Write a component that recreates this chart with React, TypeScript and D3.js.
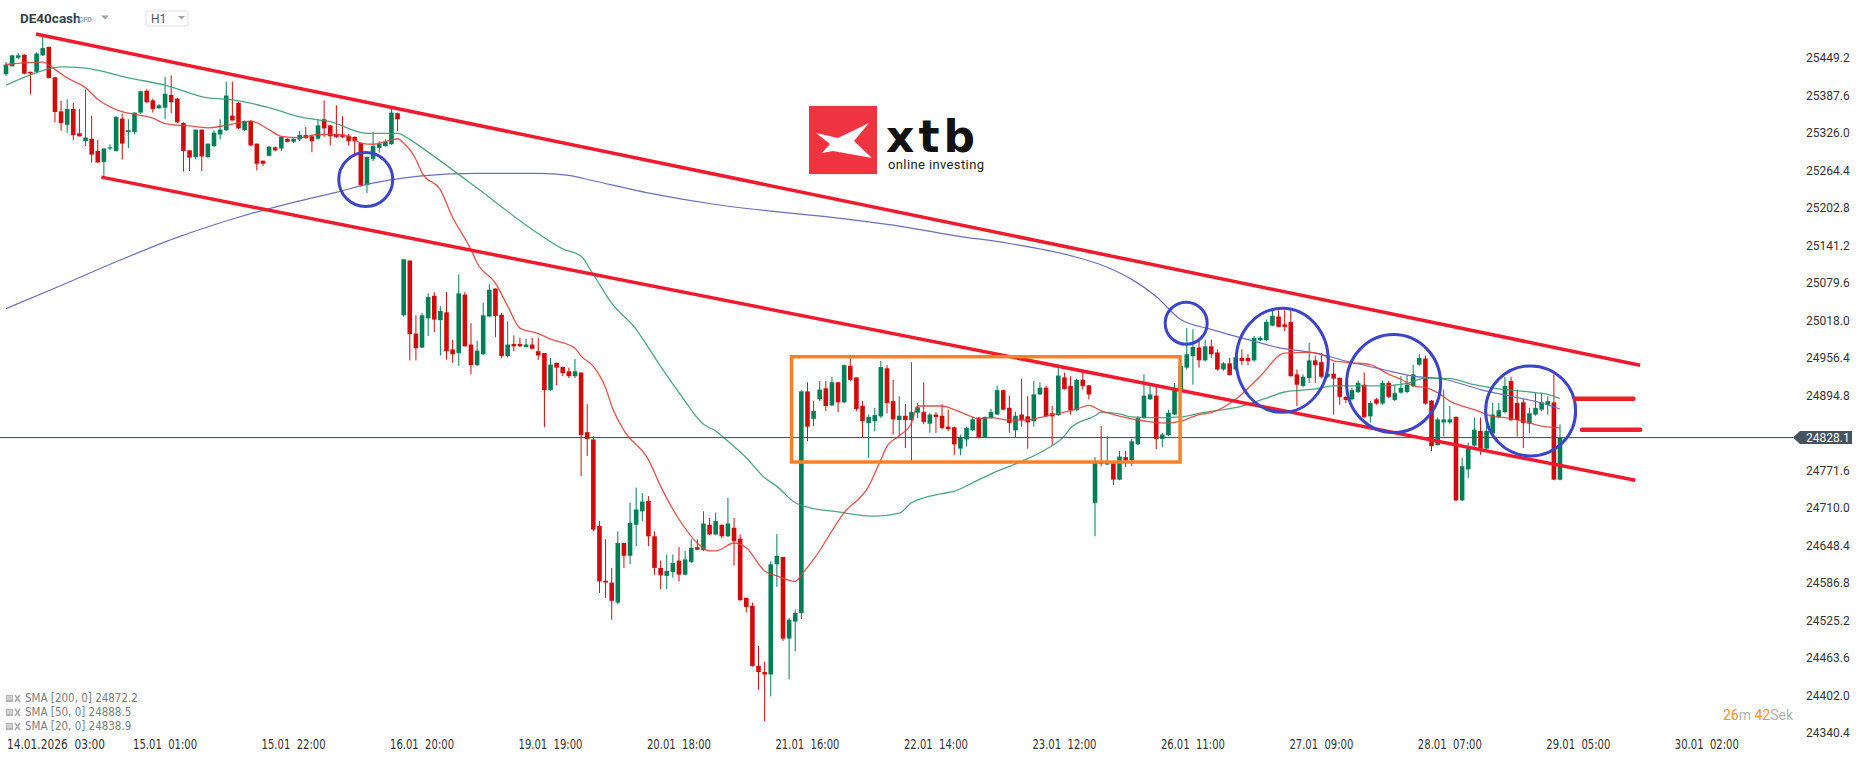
import React from 'react'
import * as d3 from 'd3'

// DE40cash H1 candles (bar index 0 = first visible bar)
const opens = [
  25425, 25438, 25452, 25457, 25429, 25429, 25456, 25470, 25420, 25364,
  25342, 25368, 25328, 25315, 25319, 25299, 25281, 25303, 25299, 25352,
  25330, 25330, 25362, 25398, 25382, 25369, 25370, 25391, 25385, 25345,
  25300, 25289, 25334, 25289, 25307, 25326, 25333, 25357, 25378, 25333,
  25348, 25311, 25283, 25291, 25305, 25303, 25319, 25314, 25318, 25325,
  25323, 25319, 25351, 25341, 25327, 25326, 25324, 25322, 25312, 25243,
  25286, 25304, 25307, 25310, 25361, 25029, 25119, 24999, 24976, 25024,
  25061, 25021, 25034, 24973, 24967, 25063, 24981, 24947, 24965, 25027,
  25073, 25030, 24962, 24982, 24982, 24977, 24981, 24970, 24967, 24906,
  24951, 24944, 24937, 24929, 24935, 24837, 24825, 24683, 24593, 24590,
  24557, 24655, 24634, 24685, 24707, 24724, 24666, 24614, 24601, 24607,
  24626, 24603, 24624, 24648, 24643, 24685, 24669, 24685, 24666, 24680,
  24662, 24565, 24552, 24453, 24443, 24439, 24620, 24632, 24498, 24526,
  24540, 24904, 24859, 24891, 24909, 24881, 24919, 24886, 24946, 24927,
  24880, 24852, 24855, 24863, 24942, 24888, 24857, 24864, 24857, 24869,
  24870, 24851, 24866, 24864, 24846, 24845, 24810, 24825, 24840, 24861,
  24829, 24860, 24866, 24906, 24877, 24840, 24866, 24863, 24855, 24899,
  24910, 24868, 24865, 24927, 24913, 24873, 24923, 24914, 24721, 24787,
  24784, 24786, 24759, 24796, 24791, 24817, 24860, 24891, 24897, 24826,
  24832, 24866, 24907, 24943, 24962, 24976, 24955, 24978, 24968, 24940,
  24950, 24940, 24959, 24959, 24955, 24988, 24988, 25012, 25027, 25014,
  25018, 24932, 24913, 24926, 24955, 24952, 24928, 24933, 24926, 24895,
  24891, 24903, 24915, 24863, 24891, 24884, 24918, 24890, 24902, 24903,
  24913, 24948, 24958, 24889, 24816, 24853, 24853, 24862, 24725, 24776,
  24815, 24839, 24810, 24835, 24862, 24870, 24921, 24885, 24886, 24851,
  24866, 24874, 24882, 24886, 24759,
]
const highs = [
  25445, 25457, 25460, 25458, 25429, 25461, 25489, 25470, 25420, 25381,
  25384, 25378, 25368, 25400, 25357, 25317, 25303, 25310, 25356, 25360,
  25351, 25362, 25398, 25400, 25385, 25376, 25421, 25423, 25386, 25346,
  25300, 25334, 25334, 25311, 25333, 25351, 25413, 25413, 25380, 25349,
  25350, 25311, 25283, 25307, 25306, 25323, 25320, 25320, 25332, 25338,
  25324, 25351, 25382, 25342, 25374, 25356, 25327, 25323, 25313, 25290,
  25330, 25315, 25318, 25370, 25362, 25121, 25119, 25029, 25033, 25065,
  25067, 25044, 25067, 24989, 25096, 25067, 25016, 24987, 25050, 25080,
  25073, 25033, 25019, 24996, 24992, 24990, 24992, 24992, 24967, 24959,
  24951, 24945, 24943, 24957, 24935, 24883, 24830, 24691, 24661, 24614,
  24674, 24655, 24721, 24746, 24737, 24732, 24674, 24626, 24636, 24636,
  24648, 24642, 24661, 24661, 24707, 24696, 24705, 24685, 24729, 24696,
  24669, 24565, 24557, 24486, 24460, 24625, 24670, 24632, 24532, 24546,
  24906, 24919, 24888, 24921, 24921, 24928, 24919, 24948, 24958, 24927,
  24888, 24866, 24877, 24954, 24947, 24923, 24896, 24883, 24952, 24885,
  24919, 24869, 24870, 24883, 24874, 24846, 24833, 24846, 24862, 24862,
  24863, 24875, 24913, 24907, 24897, 24870, 24925, 24896, 24921, 24919,
  24913, 24880, 24948, 24935, 24929, 24925, 24937, 24914, 24796, 24847,
  24830, 24787, 24806, 24806, 24826, 24863, 24932, 24913, 24913, 24836,
  24874, 24918, 24948, 25008, 25006, 24989, 24989, 24989, 24973, 24952,
  24959, 24967, 24973, 24965, 24995, 24995, 25022, 25037, 25037, 25037,
  25037, 24940, 24932, 24984, 24962, 24967, 24940, 24951, 24927, 24896,
  24910, 24922, 24935, 24888, 24893, 24922, 24921, 24915, 24929, 24930,
  24948, 24965, 24963, 24890, 24861, 24907, 24880, 24863, 24795, 24820,
  24861, 24861, 24861, 24885, 24885, 24928, 24928, 24907, 24891, 24877,
  24902, 24902, 24896, 24932, 24850,
]
const lows = [
  25422, 25438, 25450, 25425, 25392, 25427, 25455, 25418, 25346, 25332,
  25329, 25317, 25323, 25307, 25280, 25280, 25258, 25300, 25298, 25285,
  25304, 25326, 25360, 25378, 25362, 25368, 25351, 25361, 25345, 25265,
  25266, 25285, 25266, 25287, 25305, 25318, 25332, 25349, 25335, 25332,
  25307, 25267, 25274, 25290, 25299, 25299, 25313, 25312, 25315, 25319,
  25297, 25318, 25322, 25308, 25320, 25320, 25308, 25290, 25240, 25230,
  25282, 25296, 25306, 25309, 25332, 25027, 24955, 24955, 24975, 24995,
  25001, 24963, 24956, 24951, 24946, 24978, 24932, 24946, 24964, 25026,
  24993, 24959, 24960, 24970, 24977, 24976, 24973, 24956, 24845, 24905,
  24914, 24929, 24926, 24926, 24765, 24798, 24674, 24573, 24565, 24529,
  24554, 24614, 24620, 24650, 24691, 24650, 24603, 24579, 24579, 24598,
  24592, 24602, 24622, 24643, 24642, 24668, 24668, 24663, 24665, 24618,
  24560, 24541, 24452, 24414, 24362, 24403, 24583, 24494, 24431, 24477,
  24530, 24822, 24847, 24888, 24872, 24880, 24870, 24885, 24921, 24872,
  24829, 24795, 24839, 24860, 24868, 24833, 24830, 24811, 24790, 24860,
  24850, 24836, 24836, 24842, 24839, 24800, 24799, 24814, 24839, 24827,
  24828, 24859, 24865, 24873, 24836, 24828, 24846, 24810, 24846, 24898,
  24862, 24815, 24864, 24907, 24866, 24872, 24907, 24891, 24666, 24781,
  24783, 24750, 24758, 24780, 24781, 24816, 24859, 24890, 24809, 24813,
  24831, 24865, 24906, 24940, 24915, 24943, 24953, 24959, 24938, 24938,
  24930, 24938, 24947, 24947, 24953, 24987, 24987, 25011, 25009, 25003,
  24928, 24880, 24911, 24918, 24918, 24926, 24926, 24866, 24882, 24885,
  24889, 24901, 24860, 24853, 24882, 24882, 24893, 24888, 24900, 24901,
  24911, 24946, 24882, 24806, 24815, 24830, 24850, 24724, 24724, 24762,
  24813, 24800, 24808, 24833, 24860, 24868, 24855, 24830, 24811, 24836,
  24864, 24872, 24866, 24758, 24758,
]
const closes = [
  25441, 25456, 25456, 25426, 25426, 25459, 25468, 25419, 25363, 25345,
  25368, 25325, 25323, 25321, 25293, 25280, 25303, 25305, 25355, 25311,
  25333, 25362, 25397, 25379, 25368, 25374, 25393, 25379, 25346, 25299,
  25288, 25334, 25290, 25311, 25329, 25334, 25390, 25349, 25336, 25348,
  25308, 25278, 25278, 25306, 25300, 25322, 25314, 25319, 25325, 25320,
  25315, 25341, 25336, 25323, 25322, 25322, 25315, 25315, 25243, 25289,
  25307, 25311, 25314, 25362, 25351, 25121, 24998, 24975, 25029, 25059,
  25022, 25036, 24970, 24965, 25065, 24978, 24947, 24971, 25029, 25071,
  25028, 24962, 24981, 24978, 24978, 24981, 24974, 24963, 24906, 24948,
  24943, 24934, 24929, 24937, 24832, 24826, 24677, 24592, 24590, 24560,
  24655, 24634, 24688, 24710, 24723, 24666, 24614, 24602, 24609, 24622,
  24603, 24628, 24647, 24644, 24687, 24669, 24691, 24666, 24687, 24658,
  24561, 24550, 24453, 24443, 24439, 24620, 24634, 24498, 24529, 24540,
  24904, 24846, 24872, 24907, 24880, 24919, 24886, 24947, 24923, 24875,
  24855, 24862, 24865, 24944, 24885, 24858, 24864, 24857, 24870, 24878,
  24854, 24866, 24862, 24844, 24842, 24817, 24829, 24844, 24858, 24829,
  24862, 24870, 24906, 24874, 24852, 24864, 24857, 24853, 24899, 24910,
  24863, 24863, 24930, 24908, 24873, 24923, 24913, 24899, 24787, 24785,
  24788, 24759, 24797, 24791, 24822, 24860, 24897, 24899, 24826, 24833,
  24869, 24908, 24946, 24965, 24977, 24955, 24978, 24965, 24940, 24950,
  24931, 24960, 24954, 24954, 24992, 24992, 25018, 25028, 25010, 25010,
  24929, 24915, 24928, 24955, 24947, 24928, 24933, 24925, 24895, 24890,
  24906, 24918, 24862, 24885, 24884, 24918, 24895, 24901, 24910, 24915,
  24932, 24959, 24884, 24814, 24858, 24858, 24858, 24725, 24781, 24814,
  24841, 24810, 24839, 24866, 24873, 24913, 24857, 24857, 24852, 24868,
  24877, 24886, 24888, 24759, 24828.1,
]

// moving averages, read as [bar index, value]
const sma20 = [
  [0, 25441], [6, 25445], [8, 25433], [10, 25419], [13, 25403], [15, 25384], [18, 25367],
  [21, 25359], [24, 25353], [26, 25344], [30, 25340], [33, 25337], [36, 25341], [40, 25348],
  [43, 25334], [45, 25323], [48, 25321], [51, 25326], [54, 25326], [56, 25323], [58, 25312],
  [60, 25310], [62, 25314], [64, 25319], [65, 25312], [67, 25285], [68, 25263], [71, 25235],
  [73, 25190], [76, 25137], [77, 25115], [80, 25082], [82, 25044], [84, 25008], [87, 24999],
  [89, 24990], [93, 24975], [94, 24962], [96, 24945], [98, 24910], [99, 24880], [101, 24840],
  [105, 24792], [107, 24748], [110, 24694], [113, 24655], [115, 24642], [116, 24642],
  [119, 24655], [121, 24647], [124, 24609], [126, 24601], [129, 24592], [130, 24603],
  [132, 24628], [137, 24705], [141, 24748], [143, 24792], [144, 24814], [146, 24831],
  [148, 24852], [149, 24880], [153, 24880], [155, 24874], [157, 24866], [159, 24859],
  [161, 24861], [164, 24857], [167, 24857], [169, 24861], [171, 24866], [173, 24870],
  [175, 24875], [177, 24881], [179, 24872], [181, 24866], [183, 24861], [185, 24857],
  [187, 24854], [190, 24852], [192, 24855], [195, 24866], [197, 24869], [201, 24891],
  [205, 24929], [209, 24967], [213, 24968], [215, 24965], [217, 24954], [220, 24951],
  [223, 24948], [226, 24932], [228, 24924], [230, 24913], [232, 24910], [234, 24902],
  [236, 24888], [240, 24874], [243, 24863], [245, 24861], [248, 24855], [251, 24847],
  [254, 24844],
]
const sma50 = [
  [0, 25407], [4, 25424], [9, 25437], [13, 25435], [20, 25419], [26, 25407], [33, 25386],
  [37, 25383], [43, 25370], [48, 25355], [53, 25347], [59, 25328], [64, 25328], [66, 25318],
  [69, 25297], [77, 25238], [86, 25170], [91, 25138], [94, 25126], [96, 25096], [99, 25049],
  [103, 25006], [105, 24976], [107, 24945], [110, 24902], [114, 24850], [116, 24839],
  [118, 24822], [121, 24795], [124, 24762], [126, 24748], [129, 24721], [131, 24714],
  [136, 24706], [142, 24699], [146, 24704], [148, 24721], [153, 24736], [155, 24740],
  [158, 24754], [162, 24773], [166, 24789], [170, 24809], [173, 24831], [174, 24844],
  [178, 24864], [179, 24870], [182, 24867], [184, 24862], [187, 24861], [189, 24861],
  [192, 24862], [195, 24868], [202, 24880], [206, 24893], [209, 24903], [214, 24908],
  [217, 24913], [225, 24913], [229, 24917], [232, 24926], [236, 24925], [240, 24915],
  [244, 24908], [249, 24903], [252, 24899], [254, 24892],
]
const sma200 = [
  [0, 25040], [9, 25078], [18, 25117], [28, 25157], [38, 25190], [48, 25217], [54, 25231],
  [59, 25244], [64, 25253], [68, 25258], [77, 25262], [87, 25262], [92, 25259], [96, 25250],
  [106, 25228], [116, 25211], [125, 25200], [135, 25190], [145, 25177], [155, 25160],
  [164, 25147], [174, 25127], [180, 25108], [184, 25088], [188, 25060], [192, 25022],
  [197, 25006], [203, 24989], [208, 24976], [214, 24967], [219, 24954], [225, 24940],
  [230, 24929], [235, 24924], [241, 24907], [246, 24896], [251, 24885], [254, 24875],
]

const yTicks = [
  25449.2, 25387.6, 25326.0, 25264.4, 25202.8, 25141.2, 25079.6, 25018.0, 24956.4,
  24894.8, 24771.6, 24710.0, 24648.4, 24586.8, 24525.2, 24463.6, 24402.0, 24340.4,
]
const xTickBars = [5, 26, 47, 68, 89, 110, 131, 152, 173, 194, 215, 236, 257, 278]
const xTickLabels = [
  '14.01.2026  03:00', '15.01  01:00', '15.01  22:00', '16.01  20:00', '19.01  19:00',
  '20.01  18:00', '21.01  16:00', '22.01  14:00', '23.01  12:00', '26.01  11:00',
  '27.01  09:00', '28.01  07:00', '29.01  05:00', '30.01  02:00',
]
const lastPrice = 24828.1
const legendNames = ['SMA [200, 0]', 'SMA [50, 0]', 'SMA [20, 0]']
const legendValues = [24872.2, 24888.5, 24838.9]

// drawings on the chart, in [bar, price]
const channelTop = [[4.9, 25491], [267.1, 24947]]
const channelBottom = [[15.6, 25256], [266.3, 24758]]
const boxCorners = [[128.4, 24961], [191.9, 24788]]
const circles = [
  [58.8, 25252, 27, 27], [192.9, 25016, 21, 21], [208.6, 24955, 46, 52],
  [226.8, 24917, 47, 49], [249.2, 24872, 45, 45],
]
const stubs = [[256.5, 266, 24892], [257.6, 267.1, 24841]]

const GREEN = '#007f56'
const RED = '#d10a0c'
const narrow = "'Liberation Sans Narrow', 'DejaVu Sans Condensed', Roboto, sans-serif"

export default function App() {
  const x = d3.scaleLinear().domain([0, 254]).range([6, 1560])
  const y = d3.scaleLinear().domain([24340.4, 25449.2]).range([734.5, 59.5])
  const bw = 4.6

  const line = d3.line<number[]>()
    .x(d => x(d[0]))
    .y(d => y(d[1]))
    .curve(d3.curveMonotoneX)

  const priceY = y(lastPrice)

  return (
    <svg width={1866} height={761} style={{ display: 'block', background: '#fff' }}>
      <style>{`body{margin:0}`}</style>

      {/* header */}
      <text x={20} y={23} fontFamily="Roboto, sans-serif" fontWeight={700} fontSize={13.5} fill="#35404a">DE40cash</text>
      <text x={78} y={21.5} fontFamily="Roboto, sans-serif" fontWeight={700} fontSize={7.5} fill="#9aa2aa">CFD</text>
      <path d="M101,15.5 L109,15.5 L105,19.5 Z" fill="#9aa2aa" />
      <rect x={146} y={11} width={42} height={15} rx={2} fill="#fff" stroke="#dcdfe3" />
      <text x={151} y={23} fontFamily="Roboto, sans-serif" fontSize={12} fill="#555">H1</text>
      <path d="M178,16 L185,16 L181.5,19.5 Z" fill="#9aa2aa" />

      {/* logo */}
      <rect x={809} y={106} width={68} height={68} fill="#ef3340" />
      <path d="M816,133 L838,138 L869,123 L854,141 L872,158 L833,151 L822,153 L830,144 Z" fill="#fff" />
      <text x={886} y={152} fontFamily="'DejaVu Sans', sans-serif" fontWeight={700} fontSize={44}
        letterSpacing={4} fill="#111">xtb</text>
      <text x={888} y={169} fontFamily="Roboto, sans-serif" fontSize={13}
        textLength={96} lengthAdjust="spacing" fill="#222">online investing</text>

      {/* candles */}
      {closes.map((c, i) => {
        const o = opens[i]
        const col = c >= o ? GREEN : RED
        const top = y(Math.max(o, c))
        const h = Math.max(1, Math.abs(y(o) - y(c)))
        return (
          <g key={i}>
            <line x1={x(i)} x2={x(i)} y1={y(highs[i])} y2={y(lows[i])} stroke={col} strokeWidth={1} />
            <rect x={x(i) - bw / 2} y={top} width={bw} height={h} fill={col} />
          </g>
        )
      })}

      {/* moving averages */}
      <path d={line(sma200) || ''} fill="none" stroke="#6b6fbf" strokeWidth={1.2} />
      <path d={line(sma50) || ''} fill="none" stroke="#3a9c74" strokeWidth={1.3} strokeOpacity={0.9} />
      <path d={line(sma20) || ''} fill="none" stroke="#e0403d" strokeWidth={1.3} strokeOpacity={0.9} />

      {/* current price */}
      <line x1={0} x2={1793} y1={priceY} y2={priceY} stroke="#3f4b55" strokeWidth={1} />
      <path d={`M1793,${priceY} L1800,${priceY - 6.5} L1852,${priceY - 6.5} L1852,${priceY + 6.5} L1800,${priceY + 6.5} Z`} fill="#44535e" />
      <text x={1806} y={priceY + 4.3} fontFamily="Roboto, sans-serif" fontSize={12} fill="#fff">{lastPrice.toFixed(1)}</text>

      {/* channel */}
      {[channelTop, channelBottom].map((seg, k) => (
        <line key={k} x1={x(seg[0][0])} y1={y(seg[0][1])} x2={x(seg[1][0])} y2={y(seg[1][1])}
          stroke="#f01a2c" strokeWidth={3.5} />
      ))}
      <rect x={x(boxCorners[0][0])} y={y(boxCorners[0][1])}
        width={x(boxCorners[1][0]) - x(boxCorners[0][0])} height={y(boxCorners[1][1]) - y(boxCorners[0][1])}
        fill="none" stroke="#f7812b" strokeWidth={3.5} />
      {circles.map((c, k) => (
        <ellipse key={k} cx={x(c[0])} cy={y(c[1])} rx={c[2]} ry={c[3]} fill="none" stroke="#3c44c8" strokeWidth={3} />
      ))}
      {stubs.map((s, k) => (
        <line key={k} x1={x(s[0])} x2={x(s[1])} y1={y(s[2])} y2={y(s[2])} stroke="#ef1f2d" strokeWidth={4.5} strokeLinecap="round" />
      ))}

      {/* y axis */}
      {yTicks.map(t => (
        <text key={t} x={1806} y={y(t) + 2.5} fontFamily="Roboto, sans-serif" fontSize={12} fill="#333">{t.toFixed(1)}</text>
      ))}

      {/* x axis */}
      {xTickBars.map((b, k) => (
        <text key={b} x={k === 0 ? 7 : x(b)} y={749} textAnchor={k === 0 ? 'start' : 'middle'}
          fontFamily={narrow} fontSize={14} fill="#333" style={{ whiteSpace: 'pre' }}
          textLength={k === 0 ? 98 : 64} lengthAdjust="spacingAndGlyphs">{xTickLabels[k]}</text>
      ))}

      {/* legend */}
      {legendNames.map((n, k) => {
        const ly = 702 + k * 14
        return (
          <g key={n}>
            <rect x={6} y={ly - 7} width={7} height={7} fill="#b5b5b5" />
            <line x1={7} x2={12} y1={ly - 5} y2={ly - 5} stroke="#fff" strokeWidth={0.8} />
            <line x1={7} x2={12} y1={ly - 3} y2={ly - 3} stroke="#fff" strokeWidth={0.8} />
            <path d={`M15,${ly - 7} L20,${ly} M20,${ly - 7} L15,${ly}`} stroke="#a8a8a8" strokeWidth={1.6} />
            <text x={25} y={ly} fontFamily={narrow} fontSize={11.5} fill="#7d7d7d">{n} {legendValues[k].toFixed(1)}</text>
          </g>
        )
      })}

      {/* countdown */}
      <text x={1723} y={720} fontFamily="Roboto, sans-serif" fontSize={14}>
        <tspan fill="#f7931e">26</tspan>
        <tspan fill="#b4b4b4">m </tspan>
        <tspan fill="#f7931e">42</tspan>
        <tspan fill="#b4b4b4">Sek</tspan>
      </text>
    </svg>
  )
}
